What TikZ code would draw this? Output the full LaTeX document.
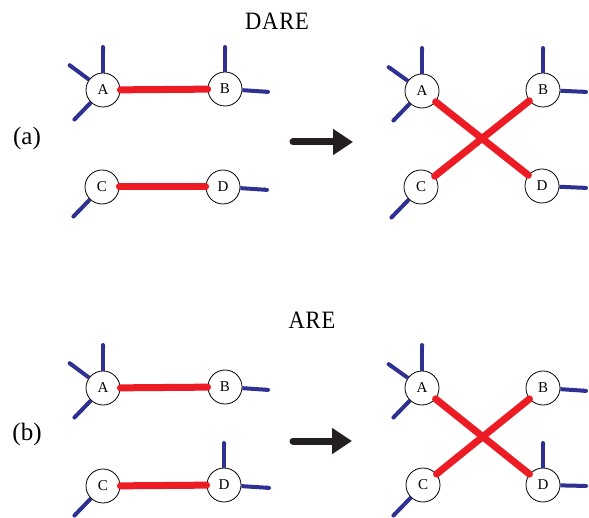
\documentclass[tikz,border=0pt]{standalone}
\usepackage{fontspec}
\usepackage{graphicx}
\setmainfont{Liberation Serif}
\newfontfamily\titlefont[LetterSpace=4]{Liberation Serif}
\usetikzlibrary{arrows.meta}
\definecolor{bondred}{RGB}{237,28,36}
\definecolor{spokeblue}{RGB}{46,49,146}
\definecolor{arrowblack}{RGB}{35,31,32}
\newcommand{\tallcaps}[1]{\scalebox{0.9}[1]{#1}}

\begin{document}
\begin{tikzpicture}[x=1pt,y=-1pt,
		site/.style={circle,draw,line width=0.8pt,minimum size=34pt,inner sep=0pt,fill=white,font=\fontsize{15}{15}\selectfont},
		spoke/.style={spokeblue,line width=4pt,-{Round Cap[]}},
		bond/.style={bondred,line width=7pt,line cap=round},
		bigarrow/.style={arrowblack,line width=7pt,line cap=round,-{Triangle[length=20pt,width=25pt]}},
		title/.style={font=\titlefont\fontsize{25}{25}\selectfont},
		panel/.style={font=\fontsize{25}{25}\selectfont}]
		\useasboundingbox (0,0) rectangle (589,518);
		% titles and panel labels
		\node[title] (dare) at (277,21) {\tallcaps{DARE}};
		\node[title] (are) at (312,320) {\tallcaps{ARE}};
		\node[panel] (la) at (27,138) {(a)};
		\node[panel] (lb) at (27,434) {(b)};
		% (a) before
		\node[site] (a-A) at (103,90) {A};
		\node[site] (a-B) at (225,89) {B};
		\node[site] (a-C) at (102,187) {C};
		\node[site] (a-D) at (223,187) {D};
		\draw[spoke] (a-A) -- ++(0,-45);
		\draw[spoke] (a-A) -- ++(-35,-26);
		\draw[spoke] (a-A) -- ++(-30,31);
		\draw[spoke] (a-B) -- ++(0,-44);
		\draw[spoke] (a-B) -- ++(45,3);
		\draw[spoke] (a-C) -- ++(-30,31);
		\draw[spoke] (a-D) -- ++(46,3);
		\draw[bond] (a-A) -- (a-B);
		\draw[bond] (a-C) -- (a-D);
		% (a) after
		\node[site] (a2-A) at (422,91) {A};
		\node[site] (a2-B) at (543,90) {B};
		\node[site] (a2-C) at (421,187) {C};
		\node[site] (a2-D) at (542,186) {D};
		\draw[spoke] (a2-A) -- ++(0,-45);
		\draw[spoke] (a2-A) -- ++(-35,-25);
		\draw[spoke] (a2-A) -- ++(-30,31);
		\draw[spoke] (a2-B) -- ++(0,-44);
		\draw[spoke] (a2-B) -- ++(45,2);
		\draw[spoke] (a2-C) -- ++(-31,32);
		\draw[spoke] (a2-D) -- ++(46,2);
		\draw[bond] (a2-A) -- (a2-D);
		\draw[bond] (a2-B) -- (a2-C);
		% (b) before
		\node[site] (b-A) at (103,388) {A};
		\node[site] (b-B) at (225,387) {B};
		\node[site] (b-C) at (103,486) {C};
		\node[site] (b-D) at (224,485) {D};
		\draw[spoke] (b-A) -- ++(0,-45);
		\draw[spoke] (b-A) -- ++(-35,-26);
		\draw[spoke] (b-A) -- ++(-30,31);
		\draw[spoke] (b-B) -- ++(45,3);
		\draw[spoke] (b-C) -- ++(-30,31);
		\draw[spoke] (b-D) -- ++(0,-44);
		\draw[spoke] (b-D) -- ++(47,3);
		\draw[bond] (b-A) -- (b-B);
		\draw[bond] (b-C) -- (b-D);
		% (b) after
		\node[site] (b2-A) at (422,388) {A};
		\node[site] (b2-B) at (543,388) {B};
		\node[site] (b2-C) at (423,485) {C};
		\node[site] (b2-D) at (543,485) {D};
		\draw[spoke] (b2-A) -- ++(0,-45);
		\draw[spoke] (b2-A) -- ++(-35,-25);
		\draw[spoke] (b2-A) -- ++(-30,31);
		\draw[spoke] (b2-B) -- ++(45,3);
		\draw[spoke] (b2-C) -- ++(-31,32);
		\draw[spoke] (b2-D) -- ++(0,-44);
		\draw[spoke] (b2-D) -- ++(45,1);
		\draw[bond] (b2-A) -- (b2-D);
		\draw[bond] (b2-B) -- (b2-C);
		% arrows
		\coordinate (a-from) at (293,142);
		\coordinate (a-to) at (353,142);
		\coordinate (b-from) at (293,441);
		\coordinate (b-to) at (352,441);
		\draw[bigarrow] (a-from) -- (a-to);
		\draw[bigarrow] (b-from) -- (b-to);
	\end{tikzpicture}
\end{document}
